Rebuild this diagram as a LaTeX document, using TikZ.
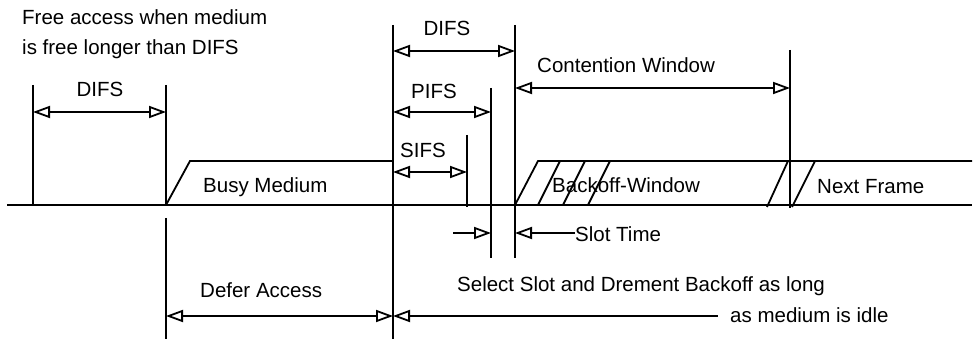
\documentclass[tikz,border=0pt]{standalone}
\usepackage{fontspec}
\setmainfont{Liberation Sans}
\usetikzlibrary{arrows.meta}
\begin{document}
\begin{tikzpicture}[x=1pt,y=-1pt,
  ln/.style={line width=1.8pt},
  hd/.tip={Triangle[open,length=17pt,width=12pt,line width=1.8pt]},
  dim/.style={ln,hd-hd},
  rhd/.style={ln,-hd},
  lhd/.style={ln,hd-},
  lbl/.style={font=\fontsize{20.5}{24}\selectfont, inner sep=0pt, anchor=base west},
  lblc/.style={font=\fontsize{20.5}{24}\selectfont, inner sep=0pt, anchor=base},
]
\useasboundingbox (0,0) rectangle (975,339);
% key coordinates
\coordinate (b0) at (7,205);
\coordinate (bE) at (972,205);
\coordinate (v1t) at (33,85);   \coordinate (v1b) at (33,205);
\coordinate (v2t) at (166,85);  \coordinate (v2b) at (166,205);
\coordinate (v2lt) at (166,218); \coordinate (v2lb) at (166,339);
\coordinate (bm1) at (190,161); \coordinate (bm2) at (393,161); \coordinate (bm3) at (393,205);
\coordinate (v3t) at (393,25);  \coordinate (v3b) at (393,339);
\coordinate (v4t) at (515,25);  \coordinate (v4b) at (515,258);
\coordinate (v5t) at (491,88);  \coordinate (v5b) at (491,258);
\coordinate (v6t) at (467,135); \coordinate (v6b) at (467,207);
\coordinate (v7t) at (790,50);  \coordinate (v7b) at (790,208);
\coordinate (bw0) at (515,205); \coordinate (bw1) at (538,161); \coordinate (bwE) at (972,161);
\coordinate (st1) at (453,233); \coordinate (st2) at (575,233);
\coordinate (da) at (718,316);

% medium line
\draw[ln] (b0) -- (bE);
% verticals
\draw[ln] (v1t) -- (v1b);
\draw[ln] (v2t) -- (v2b);
\draw[ln] (v2lt) -- (v2lb);
\draw[ln] (v3t) -- (v3b);
\draw[ln] (v4t) -- (v4b);
\draw[ln] (v5t) -- (v5b);
\draw[ln] (v6t) -- (v6b);
\draw[ln] (v7t) -- (v7b);
% busy medium
\draw[ln] (v2b) -- (bm1) -- (bm2) -- (bm3);
% backoff window
\draw[ln] (bw0) -- (bw1) -- (bwE);
\foreach \x in {538,563,588} \draw[ln] (\x,205) -- (\x+22,161);
\draw[ln] (767,207) -- (788,161);
\draw[ln] (792,207) -- (815,161);

% dimension arrows
\draw[dim] (33,112) -- (166,112);
\draw[dim] (393,51) -- (515,51);
\draw[dim] (393,112) -- (491,112);
\draw[dim] (393,172) -- (467,172);
\draw[dim] (515,88) -- (790,88);
\draw[rhd] (st1) -- (491,233);
\draw[rhd] (st2) -- (515,233);
\draw[dim] (166,316) -- (393,316);
\draw[lhd] (393,316) -- (da);

% labels
\node[lbl] (t1) at (22,25) {Free access when medium};
\node[lbl] (t2) at (22,55) {is free longer than DIFS};
\node[lblc] (difs1) at (100,97) {DIFS};
\node[lblc] (difs2) at (447,36) {DIFS};
\node[lblc] (pifs) at (434,99) {PIFS};
\node[lblc] (sifs) at (423,158) {SIFS};
\node[lbl] (cw) at (537,73) {Contention Window};
\node[lbl] (busy) at (203,193) {Busy Medium};
\node[lbl] (bow) at (552,193) {Backoff-Window};
\node[lbl] (nf) at (817,194) {Next Frame};
\node[lbl] (slot) at (575,242) {Slot Time};
\node[lbl] (sel) at (457,291) {Select Slot and Drement Backoff as long};
\node[lbl] (defer) at (200,298) {Defer Access};
\node[lbl] (idle) at (730,323) {as medium is idle};
\end{tikzpicture}
\end{document}
